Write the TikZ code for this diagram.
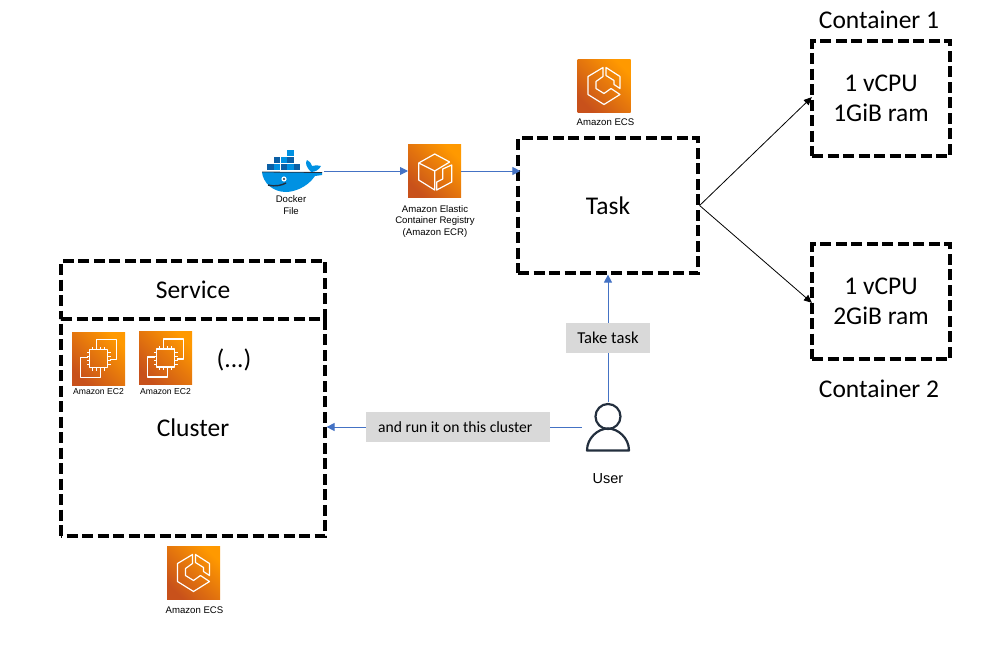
\documentclass[tikz,border=0pt]{standalone}
\usepackage{fontspec}
\setmainfont{Carlito}
\newfontfamily\iconfont{Liberation Sans}
\usepackage{xcolor}
\usetikzlibrary{arrows.meta}
\definecolor{flowblue}{HTML}{4472C4}
\definecolor{labelgrey}{HTML}{D9D9D9}
\definecolor{awslow}{HTML}{C8511B}
\definecolor{awshigh}{HTML}{FF9900}
\definecolor{userdark}{HTML}{232F3E}
\definecolor{whaleblue}{HTML}{0091E2}
\definecolor{whaledark}{HTML}{0B5FA5}
\tikzset{
  dashbox/.style={draw,line width=3.2pt,dash pattern=on 11pt off 4.5pt,align=center,font=\fontsize{25.5}{30.5}\selectfont,inner sep=0pt},
  plaintext/.style={font=\fontsize{25.5}{30}\selectfont,inner sep=0pt},
  iconbox/.style={minimum size=53pt,inner sep=0pt,left color=awslow,right color=awshigh,shading angle=135},
  iconlabel/.style={font=\iconfont\fontsize{9.6}{11.5}\selectfont,align=center,inner sep=0pt},
  greylabel/.style={fill=labelgrey,font=\fontsize{15.6}{18}\selectfont,inner sep=0pt,minimum height=29.5pt},
  flow/.style={draw=flowblue,line width=0.9pt,-{Triangle[length=8pt,width=8pt]}},
  glyph/.style={draw=white,line width=1.2pt,line join=round},
  ecsglyph/.pic={
    \draw[glyph] (-1,-18)--(-16,-9)--(-16,9)--(0,19)--(16,9)--(7,3)--(0,8)--(-8,3)--(-8,-4)--(-1,-9)--cycle;
    \draw[glyph] (2,-18)--(16,-9)--(16,3)--(10,-1)--(10,-5)--(2,-10)--cycle;
  },
  ecrglyph/.pic={
    \draw[glyph] (15,-9)--(0,-17)--(-16,-8)--(-16,9)--(0,19)--(0,0)--(15,-9);
    \draw[glyph] (-16,-8)--(0,0);
    \draw[glyph] (2,19)--(2,11)--(8,8)--(8,-2)--(17,-6)--(17,11)--cycle;
  },
  ectwoglyph/.pic={
    \draw[glyph] (-2,-12)--(-2,-19)--(18,-19)--(18,1)--(11,1);
    \draw[glyph] (2,12)--(2,19)--(-18,19)--(-18,-1)--(-11,-1);
    \draw[glyph] (-9,-9) rectangle (9,9);
    \foreach \t in {-6,-2,2,6}{
      \draw[draw=white,line width=0.8pt] (\t,-9)--(\t,-12) (\t,9)--(\t,12) (-9,\t)--(-12,\t) (9,\t)--(12,\t);
    }
  },
  whaleglyph/.pic={
    \fill[whaleblue] (-29,1)--(31,1)--(31,4)--(24,5) .. controls (16,17) and (2,21) .. (-5,21) .. controls (-18,21) and (-28,12) .. (-29,1)--cycle;
    \fill[whaleblue] (20,1) .. controls (15,-4) and (14,-8) .. (16,-11) .. controls (19,-9) and (21,-7) .. (21,-5) .. controls (24,-6) and (27,-6) .. (30,-5) .. controls (28,-1) and (24,1) .. (20,1)--cycle;
    \foreach \cx/\cy/\cc in {-23.7/-7/whaledark,-17/-7/whaleblue,-10.4/-7/whaledark,-3.7/-7/whaleblue,3/-7/whaledark,-17/-14/whaledark,-10.4/-14/whaleblue,-3.7/-14/whaledark,-3.7/-21/whaleblue}{
      \fill[\cc] (\cx,\cy) rectangle ++(6.4,6.4);
    }
    \draw[userdark,line width=0.8pt] (-29,1)--(31,1.5);
    \draw[userdark,line width=1.4pt] (-23,14) .. controls (-15,16) and (-9,14) .. (-5,12);
    \fill[white] (-7,8) circle (2.6);
    \fill[userdark] (-7,8) circle (1.2);
  },
  userglyph/.pic={
    \draw[userdark,line width=2.2pt] (0,-10.5) circle (12.5);
    \draw[userdark,line width=2.2pt,line join=round] (-21,23.5)--(21,23.5) .. controls (21,11) and (10,1.5) .. (0,1.5) .. controls (-10,1.5) and (-21,11) .. (-21,23.5)--cycle;
  }
}
\begin{document}
\begin{tikzpicture}[x=1pt,y=-1pt]
\useasboundingbox (0,0) rectangle (996,653);
% boxes
\node[dashbox,minimum width=180pt,minimum height=135pt](task) at (608,205.5){Task};
\node[dashbox,minimum width=138pt,minimum height=115pt](cone) at (881,98.5){1 vCPU\\1GiB ram};
\node[dashbox,minimum width=138pt,minimum height=115pt](ctwo) at (881,301.5){1 vCPU\\2GiB ram};
\node[dashbox,minimum width=264pt,minimum height=58pt](service) at (193,290){Service};
\node[dashbox,dash phase=10pt,minimum width=264pt,minimum height=217pt](cluster) at (193,427.5){Cluster};
\node[plaintext](conetext) at (879,20){Container 1};
\node[plaintext](ctwotext) at (879,389){Container 2};
\node[plaintext](more) at (234,360){(...)};
% icons
\node[iconbox](ecstop) at (604,85.5){};\pic at (ecstop) {ecsglyph};
\node[iconlabel](ecstoptext) at (605.5,122.5){Amazon ECS};
\node[iconbox](ecr) at (434.7,171){};\pic at (ecr) {ecrglyph};
\node[iconlabel](ecrtext) at (435,221.5){Amazon Elastic\\Container Registry\\(Amazon ECR)};
\node[iconbox](econe) at (98.5,358.5){};\pic at (econe) {ectwoglyph};
\node[iconlabel,font=\iconfont\fontsize{8.6}{10}\selectfont](econetext) at (98.5,392){Amazon EC2};
\node[iconbox](ectwo) at (165.5,358){};\pic at (ectwo) {ectwoglyph};
\node[iconlabel,font=\iconfont\fontsize{8.6}{10}\selectfont](ectwotext) at (165.5,392){Amazon EC2};
\node[iconbox](ecsbot) at (193.5,572.5){};\pic at (ecsbot) {ecsglyph};
\node[iconlabel](ecsbottext) at (194.5,610.5){Amazon ECS};
\node[minimum width=66pt,minimum height=44pt,inner sep=0pt](dock) at (291,171){};\pic at (dock) {whaleglyph};
\node[iconlabel](docktext) at (291,205){Docker\\File};
\node[minimum width=52pt,minimum height=50pt,inner sep=0pt](user) at (608,427){};\pic at (user) {userglyph};
\node[font=\iconfont\fontsize{14.5}{16}\selectfont,inner sep=0pt](usertext) at (608,479){User};
% connectors
\draw[flow](dock)--(ecr);
\draw[flow,shorten >=-4pt](ecr)--(ecr-|task.west);
\draw[flow](user)--node[greylabel,font=\fontsize{16.6}{18}\selectfont,minimum width=84pt,pos=0.5](take){Take task}(task);
\draw[flow](user)--node[greylabel,minimum width=184pt,pos=0.484](run){and run it on this cluster\hspace*{6pt}}(user-|cluster.east);
\draw[-{Triangle[length=8pt,width=7pt]},line width=0.8pt,shorten >=-2pt](task.east)--(cone.west);
\draw[-{Triangle[length=8pt,width=7pt]},line width=0.8pt,shorten >=-2pt](task.east)--(ctwo.west);
\end{tikzpicture}
\end{document}
